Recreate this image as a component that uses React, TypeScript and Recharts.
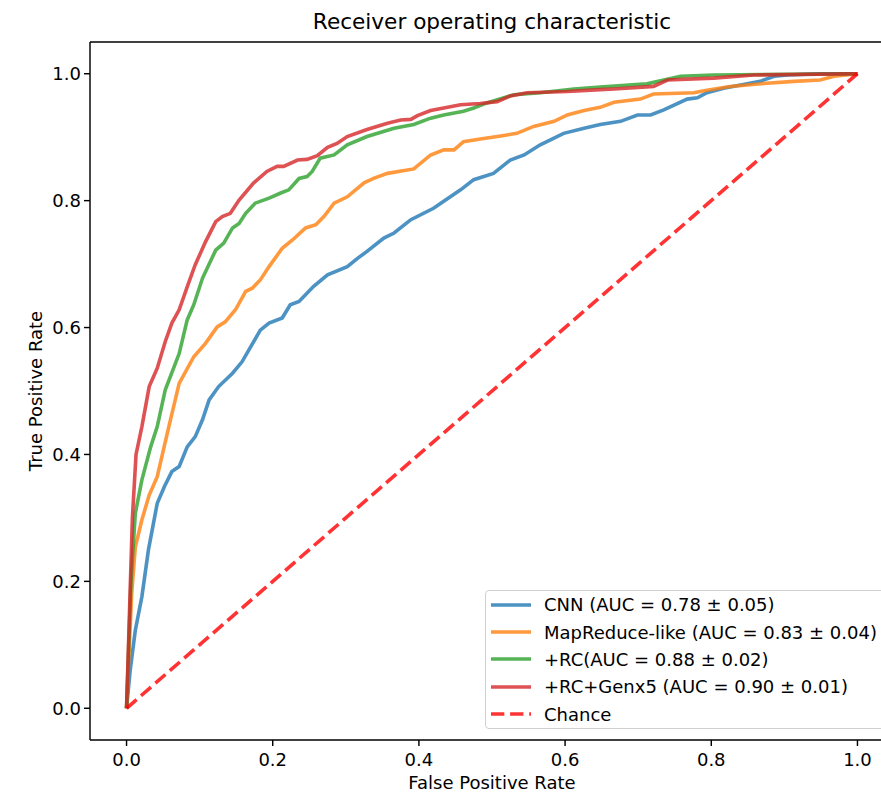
import React from 'react';
import { LineChart, Line, XAxis, YAxis, ReferenceLine, Legend } from 'recharts';

const ticks = [0, 0.2, 0.4, 0.6, 0.8, 1.0];

const cnnFpr = [0, .005, .012, .021, .03, .042, .052, .062, .072, .083, .094, .104, .113, .126, .145, .158, .17, .183, .195, .213, .224, .236, .256, .275, .302, .316, .329, .352, .366, .389, .42, .434, .457, .475, .502, .525, .544, .566, .598, .626, .648, .676, .699, .717, .735, .767, .781, .794, .817, .867, .886, .904, .95, 1.0];
const cnnTpr = [0, .06, .123, .176, .25, .323, .35, .373, .381, .412, .428, .455, .486, .507, .528, .546, .57, .596, .607, .615, .636, .641, .665, .683, .696, .709, .720, .741, .749, .770, .788, .799, .817, .833, .843, .864, .872, .888, .906, .914, .920, .925, .935, .935, .943, .960, .962, .970, .977, .988, .996, .998, 1.0, 1.0];

const mrFpr = [0, .007, .012, .021, .031, .042, .051, .060, .072, .092, .108, .124, .135, .149, .163, .172, .183, .195, .213, .227, .245, .259, .27, .284, .302, .325, .338, .357, .393, .416, .434, .448, .461, .484, .512, .534, .557, .585, .603, .626, .648, .667, .703, .721, .776, .794, .826, .876, .913, .949, .968, 1.0];
const mrTpr = [0, .18, .254, .297, .336, .365, .41, .454, .512, .554, .575, .601, .609, .628, .657, .662, .675, .696, .725, .738, .757, .762, .775, .796, .806, .828, .835, .843, .850, .872, .880, .880, .893, .897, .902, .906, .917, .925, .935, .942, .947, .955, .960, .968, .970, .974, .980, .985, .988, .990, .996, 1.0];

const rcFpr = [0, .006, .012, .021, .033, .042, .053, .072, .083, .092, .104, .122, .133, .145, .154, .163, .176, .195, .211, .222, .236, .247, .254, .265, .284, .302, .329, .366, .393, .416, .434, .461, .475, .493, .530, .566, .612, .648, .712, .758, .803, 1.0];
const rcTpr = [0, .2, .307, .360, .412, .444, .502, .559, .612, .636, .678, .722, .733, .757, .764, .780, .796, .804, .812, .817, .835, .838, .846, .867, .872, .888, .901, .914, .920, .930, .935, .941, .946, .954, .967, .970, .976, .979, .984, .996, .998, 1.0];

const genFpr = [0, .004, .008, .013, .021, .031, .042, .053, .062, .072, .083, .094, .108, .122, .131, .142, .154, .174, .192, .206, .215, .234, .247, .261, .275, .288, .302, .329, .357, .375, .389, .398, .416, .434, .457, .484, .507, .525, .548, .603, .648, .667, .721, .740, .803, .858, 1.0];
const genTpr = [0, .15, .30, .40, .444, .507, .536, .578, .607, .628, .664, .699, .735, .767, .775, .780, .801, .828, .846, .854, .854, .864, .865, .871, .884, .890, .901, .912, .922, .927, .928, .934, .942, .946, .951, .953, .956, .965, .970, .972, .975, .976, .980, .990, .993, .998, 1.0];

const chanceFpr = [0, 1];
const chanceTpr = [0, 1];

const seriesNames = [
  'CNN (AUC = 0.78 \u00b1 0.05)',
  'MapReduce-like (AUC = 0.83 \u00b1 0.04)',
  '+RC(AUC = 0.88 \u00b1 0.02)',
  '+RC+Genx5 (AUC = 0.90 \u00b1 0.01)',
  'Chance',
];
const seriesColors = ['#1f77b4', '#ff7f0e', '#2ca02c', '#d62728', '#ff0000'];

const zip = (xs: number[], ys: number[]) => xs.map((x, i) => ({ x, y: ys[i] }));

const series = [
  zip(cnnFpr, cnnTpr),
  zip(mrFpr, mrTpr),
  zip(rcFpr, rcTpr),
  zip(genFpr, genTpr),
  zip(chanceFpr, chanceTpr),
];

const FONT = 'DejaVu Sans';
const LW = 3.6;
const DASH = '13.3 5.8';

const LegendBox = () => (
  <div
    style={{
      position: 'absolute',
      left: 485,
      top: 590,
      width: 420,
      height: 139,
      border: '1px solid #d0d0d0',
      borderRadius: 4,
      background: 'rgba(255,255,255,0.8)',
      fontFamily: FONT,
      fontSize: 18,
      color: '#000',
      boxSizing: 'border-box',
      paddingTop: 0,
    }}
  >
    {seriesNames.map((name, i) => (
      <div key={name} style={{ height: 27.4, display: 'flex', alignItems: 'center', whiteSpace: 'nowrap' }}>
        <svg width={58} height={10} style={{ flex: 'none' }}>
          <line
            x1={5}
            x2={45}
            y1={5}
            y2={5}
            stroke={seriesColors[i]}
            strokeOpacity={0.8}
            strokeWidth={LW}
            strokeDasharray={i === 4 ? DASH : undefined}
          />
        </svg>
        <span>{name}</span>
      </div>
    ))}
  </div>
);

export default function App() {
  return (
    <div style={{ position: 'fixed', left: 0, top: 0, width: 881, height: 792, overflow: 'hidden', background: '#fff' }}>
      <div
        style={{
          position: 'absolute',
          left: 90,
          width: 804,
          top: 11,
          textAlign: 'center',
          fontFamily: FONT,
          fontSize: 21.6,
          lineHeight: 1,
          color: '#000',
        }}
      >
        Receiver operating characteristic
      </div>
      <div style={{ position: 'absolute', left: 0, top: 0 }}>
        <LineChart width={910} height={792} margin={{ top: 42, right: 16, left: 0, bottom: 0 }}>
          <XAxis
            type="number"
            dataKey="x"
            domain={[-0.05, 1.05]}
            ticks={ticks}
            allowDataOverflow
            tickFormatter={(v: number) => v.toFixed(1)}
            height={52}
            tickSize={6}
            tickMargin={7}
            axisLine={{ stroke: '#000', strokeWidth: 1.44 }}
            tickLine={{ stroke: '#000', strokeWidth: 1.44 }}
            tick={{ fill: '#000', fontSize: 18, fontFamily: FONT }}
            label={(props: any) => {
              const vb = props.viewBox || { x: 90, y: 740, width: 804 };
              const cx = vb.x + vb.width / 2;
              return (
                <text x={cx} y={vb.y + 42} textAnchor="middle" dominantBaseline="central" fontFamily={FONT} fontSize={18} fill="#000">
                  False Positive Rate
                </text>
              );
            }}
          />
          <YAxis
            type="number"
            domain={[-0.05, 1.05]}
            ticks={ticks}
            allowDataOverflow
            tickFormatter={(v: number) => v.toFixed(1)}
            width={90}
            tickSize={6}
            tickMargin={3}
            axisLine={{ stroke: '#000', strokeWidth: 1.44 }}
            tickLine={{ stroke: '#000', strokeWidth: 1.44 }}
            tick={{ fill: '#000', fontSize: 18, fontFamily: FONT }}
            label={(props: any) => {
              const vb = props.viewBox || { x: 0, y: 42, height: 698 };
              const cx = 35;
              const cy = vb.y + vb.height / 2;
              return (
                <text x={cx} y={cy} transform={`rotate(-90, ${cx}, ${cy})`} textAnchor="middle" dominantBaseline="central" fontFamily={FONT} fontSize={18} fill="#000">
                  True Positive Rate
                </text>
              );
            }}
          />
          <ReferenceLine y={1.05} stroke="#000" strokeWidth={1.44} ifOverflow="visible" />
          <ReferenceLine x={1.05} stroke="#000" strokeWidth={1.44} ifOverflow="visible" />
          {series.map((d, i) => (
            <Line
              key={seriesNames[i]}
              data={d}
              dataKey="y"
              name={seriesNames[i]}
              type="linear"
              stroke={seriesColors[i]}
              strokeOpacity={0.8}
              strokeWidth={LW}
              strokeDasharray={i === 4 ? DASH : undefined}
              dot={false}
              activeDot={false}
              isAnimationActive={false}
            />
          ))}
          <Legend content={() => <LegendBox />} wrapperStyle={{ position: 'absolute', left: 0, top: 0, width: 0, height: 0 }} />
        </LineChart>
      </div>
    </div>
  );
}
